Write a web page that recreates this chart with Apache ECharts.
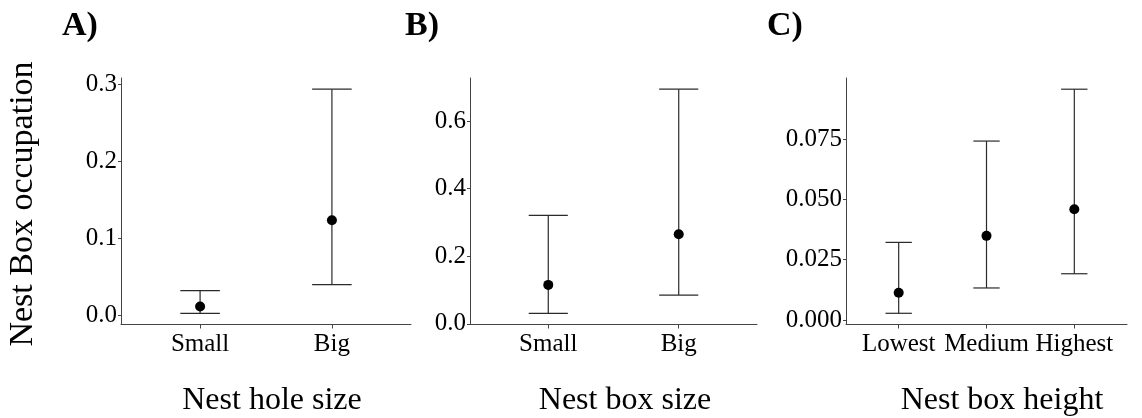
<!DOCTYPE html>
<html>
<head>
<meta charset="utf-8">
<script src="https://cdn.jsdelivr.net/npm/echarts@6/dist/echarts.min.js"></script>
<style>
  html, body { margin: 0; padding: 0; background: #fff; }
  #chart { width: 1142px; height: 418px; }
</style>
</head>
<body>
<div id="chart"></div>
<script>
// ---- Data ----
const holeCats = ['Small', 'Big'];
const holeMean = [0.0117, 0.1236];
const holeLower = [0.003, 0.0402];
const holeUpper = [0.0324, 0.2934];
const holeTicks = [0, 0.1, 0.2, 0.3];

const boxSizeCats = ['Small', 'Big'];
const boxSizeMean = [0.115, 0.265];
const boxSizeLower = [0.031, 0.085];
const boxSizeUpper = [0.321, 0.694];
const boxSizeTicks = [0, 0.2, 0.4, 0.6];

const heightCats = ['Lowest', 'Medium', 'Highest'];
const heightMean = [0.0113, 0.0349, 0.0459];
const heightLower = [0.0028, 0.0133, 0.0192];
const heightUpper = [0.0322, 0.0742, 0.0957];
const heightTicks = [0, 0.025, 0.05, 0.075];

const panelLabels = ['A)', 'B)', 'C)'];
const xTitles = ['Nest hole size', 'Nest box size', 'Nest box height'];
const yTitle = 'Nest Box occupation';

// ---- Layout / style ----
const FONT = '"Liberation Serif", "DejaVu Serif", serif';
const AXIS_COLOR = '#444';
const BAR_COLOR = '#2a2a2a';
const CAP_WIDTH = 0.3;

const panels = [
  { cats: holeCats, mean: holeMean, lo: holeLower, hi: holeUpper, ticks: holeTicks, dec: 1,
    grid: { left: 121, top: 78, width: 290, height: 246.5 } },
  { cats: boxSizeCats, mean: boxSizeMean, lo: boxSizeLower, hi: boxSizeUpper, ticks: boxSizeTicks, dec: 1,
    grid: { left: 470, top: 78, width: 287, height: 246.5 } },
  { cats: heightCats, mean: heightMean, lo: heightLower, hi: heightUpper, ticks: heightTicks, dec: 3,
    grid: { left: 846, top: 78, width: 281, height: 246.5 } }
];

const grids = [], xAxes = [], yAxes = [], series = [];

panels.forEach((p, i) => {
  grids.push(p.grid);
  const n = p.cats.length;
  const positions = p.cats.map((c, k) => k + 1);
  const dmin = Math.min(...p.lo), dmax = Math.max(...p.hi);
  const pad = (dmax - dmin) * 0.05;

  xAxes.push({
    type: 'value', gridIndex: i, min: 0.4, max: n + 0.6,
    splitLine: { show: false },
    axisLine: { show: true, onZero: false, lineStyle: { color: AXIS_COLOR, width: 1 } },
    axisTick: { show: true, length: 4, customValues: positions, lineStyle: { color: AXIS_COLOR } },
    axisLabel: {
      customValues: positions, margin: 7,
      formatter: v => p.cats[Math.round(v) - 1] || '',
      fontFamily: FONT, fontSize: 25, color: '#000'
    }
  });
  yAxes.push({
    type: 'value', gridIndex: i, min: dmin - pad, max: dmax + pad,
    splitLine: { show: false },
    axisLine: { show: true, onZero: false, lineStyle: { color: AXIS_COLOR, width: 1 } },
    axisTick: { show: true, length: 3, customValues: p.ticks, lineStyle: { color: AXIS_COLOR } },
    axisLabel: {
      customValues: p.ticks, margin: 4,
      formatter: v => Number(v).toFixed(p.dec),
      fontFamily: FONT, fontSize: 25, color: '#000'
    }
  });

  series.push({
    type: 'custom', xAxisIndex: i, yAxisIndex: i,
    data: positions.map((x, k) => [x, p.lo[k], p.hi[k]]),
    encode: { x: 0, y: [1, 2] },
    renderItem: (params, api) => {
      const x = api.value(0);
      const a = api.coord([x, api.value(1)]);
      const b = api.coord([x, api.value(2)]);
      const half = api.size([CAP_WIDTH, 0])[0] / 2;
      const st = { stroke: BAR_COLOR, lineWidth: 1.2 };
      return {
        type: 'group',
        children: [
          { type: 'line', shape: { x1: a[0], y1: a[1], x2: b[0], y2: b[1] }, style: st },
          { type: 'line', shape: { x1: a[0] - half, y1: a[1], x2: a[0] + half, y2: a[1] }, style: st },
          { type: 'line', shape: { x1: b[0] - half, y1: b[1], x2: b[0] + half, y2: b[1] }, style: st }
        ]
      };
    },
    z: 2
  });
  series.push({
    type: 'scatter', xAxisIndex: i, yAxisIndex: i,
    data: positions.map((x, k) => [x, p.mean[k]]),
    symbol: 'circle', symbolSize: 10,
    itemStyle: { color: '#000', opacity: 1 },
    z: 3
  });
});

const graphics = [
  { type: 'text', left: 62, top: 9, style: { text: panelLabels[0], font: 'bold 34px ' + FONT, fill: '#000' } },
  { type: 'text', left: 405, top: 9, style: { text: panelLabels[1], font: 'bold 34px ' + FONT, fill: '#000' } },
  { type: 'text', left: 767, top: 9, style: { text: panelLabels[2], font: 'bold 34px ' + FONT, fill: '#000' } },
  { type: 'text', x: 272, y: 401, style: { text: xTitles[0], font: '32px ' + FONT, fill: '#000', align: 'center', verticalAlign: 'middle' } },
  { type: 'text', x: 625, y: 401, style: { text: xTitles[1], font: '32px ' + FONT, fill: '#000', align: 'center', verticalAlign: 'middle' } },
  { type: 'text', x: 1002, y: 401, style: { text: xTitles[2], font: '32px ' + FONT, fill: '#000', align: 'center', verticalAlign: 'middle' } },
  { type: 'text', x: 23, y: 204, rotation: Math.PI / 2,
    style: { text: yTitle, font: '34px ' + FONT, fill: '#000', align: 'center', verticalAlign: 'middle' } }
];

const chart = echarts.init(document.getElementById('chart'), null, { renderer: 'canvas' });
chart.setOption({
  animation: false,
  backgroundColor: '#fff',
  grid: grids,
  xAxis: xAxes,
  yAxis: yAxes,
  series: series,
  graphic: graphics
});
</script>
</body>
</html>
